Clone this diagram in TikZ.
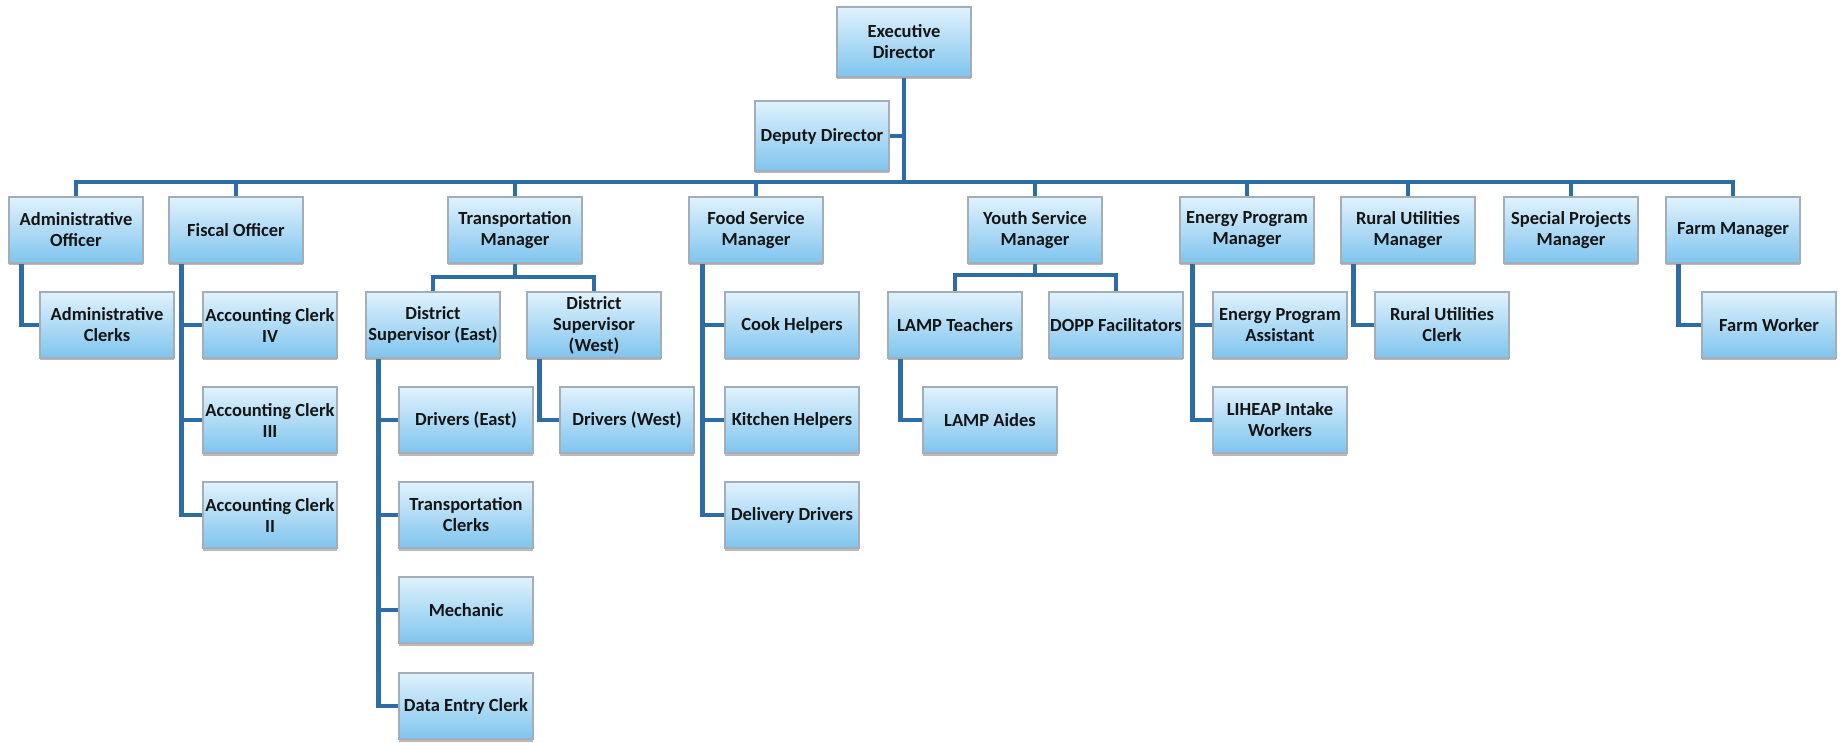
\documentclass[tikz,border=0pt]{standalone}
\usepackage{fontspec}
\setmainfont{Carlito}
\usetikzlibrary{shadows,backgrounds,calc}
\definecolor{linkblue}{HTML}{2E6CA4}
\definecolor{boxtop}{HTML}{E0F2FD}
\definecolor{boxbot}{HTML}{7FC4EE}
\definecolor{boxedge}{HTML}{A3AEB8}
\definecolor{txt}{HTML}{151515}
\tikzset{
  box/.style={draw=boxedge, line width=1.2pt, top color=boxtop, bottom color=boxbot,
    minimum width=134pt, minimum height=66pt, inner sep=0.5pt, align=center,
    font=\fontsize{18.5}{21}\selectfont\bfseries, text=txt,
    drop shadow={shadow xshift=0pt, shadow yshift=-2.5pt, fill=black!60, opacity=0.45}},
  link/.style={draw=linkblue, line width=4.5pt},
}
\begin{document}
\begin{tikzpicture}[x=1pt,y=-1pt]
\useasboundingbox (0,0) rectangle (1840,743);
% top
\node[box, minimum height=70pt] (exec) at (904,42) {Executive\\Director};
\node[box, minimum height=70pt] (dep) at (822,136) {Deputy Director};
% level 1
\node[box] (admo) at (76,230) {Administrative\\Officer};
\node[box] (fisc) at (236,230) {Fiscal Officer};
\node[box] (tran) at (515,230) {Transportation\\Manager};
\node[box] (food) at (756,230) {Food Service\\Manager};
\node[box] (youth) at (1035,230) {Youth Service\\Manager};
\node[box] (energy) at (1247,230) {Energy Program\\Manager};
\node[box] (rural) at (1408,230) {Rural Utilities\\Manager};
\node[box] (special) at (1571,230) {Special Projects\\Manager};
\node[box] (farm) at (1733,230) {Farm Manager};
% level 2
\node[box] (admcl) at (107,325) {Administrative\\Clerks};
\node[box] (acc4) at (270,325) {Accounting Clerk\\IV};
\node[box] (acc3) at (270,420) {Accounting Clerk\\III};
\node[box] (acc2) at (270,515) {Accounting Clerk\\II};
\node[box] (dse) at (433,325) {District\\Supervisor (East)};
\node[box] (dsw) at (594,325) {District\\Supervisor\\(West)};
\node[box] (dre) at (466,420) {Drivers (East)};
\node[box] (trc) at (466,515) {Transportation\\Clerks};
\node[box] (mech) at (466,610) {Mechanic};
\node[box] (dec) at (466,706) {Data Entry Clerk};
\node[box] (drw) at (627,420) {Drivers (West)};
\node[box] (cook) at (792,325) {Cook Helpers};
\node[box] (kitch) at (792,420) {Kitchen Helpers};
\node[box] (deliv) at (792,515) {Delivery Drivers};
\node[box] (lampt) at (955,325) {LAMP Teachers};
\node[box] (dopp) at (1116,325) {DOPP Facilitators};
\node[box] (lampa) at (990,420) {LAMP Aides};
\node[box] (epa) at (1280,325) {Energy Program\\Assistant};
\node[box] (lih) at (1280,420) {LIHEAP Intake\\Workers};
\node[box] (rucl) at (1442,325) {Rural Utilities\\Clerk};
\node[box] (fw) at (1769,325) {Farm Worker};
\begin{scope}[on background layer]
  \fill[white] (0,0) rectangle (1840,743);
  \coordinate (bus) at (0,182);
  \coordinate (tb) at (0,277);
  \coordinate (yb) at (0,275);
  \draw[link] (exec.south) -- (exec.south |- bus);
  \draw[link] (dep.east) -- (dep.east -| exec.south);
  \draw[link] (admo.north) |- (farm.north |- bus) -- (farm.north);
  \foreach \n in {fisc,tran,food,youth,energy,rural,special}
    \draw[link] (\n.north) -- (\n.north |- bus);
  \draw[link] ([xshift=13pt]admo.south west) |- (admcl.west);
  \foreach \c in {acc4,acc3,acc2}
    \draw[link] ([xshift=13pt]fisc.south west) |- (\c.west);
  \draw[link] (tran.south) -- (tran.south |- tb);
  \draw[link] (dse.north) |- (tran.south |- tb) -| (dsw.north);
  \foreach \c in {dre,trc,mech,dec}
    \draw[link] ([xshift=13pt]dse.south west) |- (\c.west);
  \draw[link] ([xshift=13pt]dsw.south west) |- (drw.west);
  \foreach \c in {cook,kitch,deliv}
    \draw[link] ([xshift=14pt]food.south west) |- (\c.west);
  \draw[link] (youth.south) -- (youth.south |- yb);
  \draw[link] (lampt.north) |- (youth.south |- yb) -| (dopp.north);
  \draw[link] ([xshift=13pt]lampt.south west) |- (lampa.west);
  \foreach \c in {epa,lih}
    \draw[link] ([xshift=13pt]energy.south west) |- (\c.west);
  \draw[link] ([xshift=13pt]rural.south west) |- (rucl.west);
  \draw[link] ([xshift=13pt]farm.south west) |- (fw.west);
\end{scope}
\end{tikzpicture}
\end{document}
